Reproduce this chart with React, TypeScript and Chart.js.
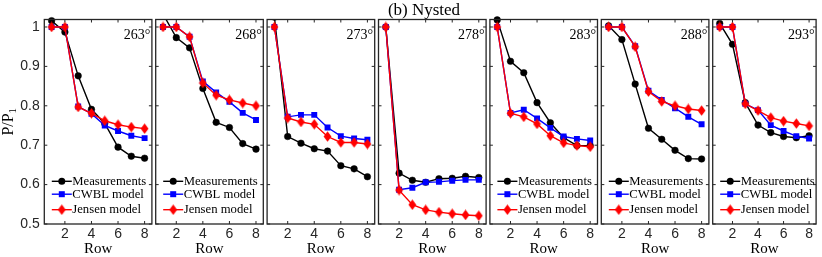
import React, { useEffect, useRef } from 'react';
import { Chart, registerables } from 'chart.js';

Chart.register(...registerables);

// ---------------- data ----------------
const rows = [1, 2, 3, 4, 5, 6, 7, 8];
const angleLabels = ['263°', '268°', '273°', '278°', '283°', '288°', '293°'];
const xTicks = [2, 4, 6, 8];
const xTickLabels = ['2', '4', '6', '8'];
const yTicks = [0.5, 0.6, 0.7, 0.8, 0.9, 1];
const yTickLabels = ['0.5', '0.6', '0.7', '0.8', '0.9', '1'];
const seriesNames = ['Measurements', 'CWBL model', 'Jensen model'];
const figureTitle = '(b) Nysted';
const xAxisTitle = 'Row';
const showLegend = [true, true, false, false, true, true, true];

const measurements = [
  [1.016, 0.987, 0.876, 0.791, 0.755, 0.695, 0.672, 0.667],
  [1.033, 0.973, 0.947, 0.844, 0.758, 0.745, 0.704, 0.69],
  [1.025, 0.722, 0.705, 0.691, 0.685, 0.648, 0.64, 0.62],
  [1.0, 0.629, 0.611, 0.606, 0.615, 0.616, 0.621, 0.618],
  [1.018, 0.913, 0.884, 0.808, 0.757, 0.719, 0.699, 0.699],
  [1.003, 0.968, 0.855, 0.743, 0.715, 0.687, 0.666, 0.665],
  [1.009, 0.956, 0.808, 0.751, 0.732, 0.722, 0.719, 0.724],
];
const cwblModel = [
  [1.0, 1.0, 0.798, 0.78, 0.75, 0.736, 0.724, 0.718],
  [1.0, 1.0, 0.975, 0.862, 0.834, 0.81, 0.782, 0.764],
  [1.0, 0.772, 0.777, 0.777, 0.745, 0.723, 0.717, 0.714],
  [1.0, 0.587, 0.592, 0.606, 0.607, 0.61, 0.612, 0.612],
  [1.0, 0.782, 0.79, 0.768, 0.744, 0.722, 0.716, 0.712],
  [1.0, 1.0, 0.951, 0.838, 0.815, 0.794, 0.772, 0.753],
  [1.0, 1.0, 0.805, 0.789, 0.751, 0.736, 0.723, 0.717],
];
const jensenModel = [
  [1.0, 1.0, 0.797, 0.781, 0.762, 0.752, 0.746, 0.742],
  [1.0, 1.0, 0.975, 0.858, 0.827, 0.815, 0.807, 0.8],
  [1.0, 0.769, 0.759, 0.753, 0.722, 0.707, 0.707, 0.703],
  [1.0, 0.586, 0.549, 0.536, 0.53, 0.526, 0.523, 0.521],
  [1.0, 0.781, 0.772, 0.754, 0.724, 0.706, 0.699, 0.696],
  [1.0, 1.0, 0.95, 0.836, 0.811, 0.8, 0.792, 0.788],
  [1.0, 1.0, 0.805, 0.788, 0.77, 0.761, 0.755, 0.749],
];

// ---------------- layout / style ----------------
const W = 822;
const H = 257;
const PANEL_LEFT0 = 44.3;
const PANEL_STEP = 111.4;
const PANEL_W = 107.6;
const PLOT_TOP = 19.5;
const X_AXIS_H = 33;
const X_MIN = 0.45;
const X_MAX = 8.55;
const Y_MIN = 0.5;
const Y_MAX = 1.019;
const AXIS_COLOR = '#262626';
const TICK_LEN = 3;
const BLACK = '#000000';
const BLUE = '#0000ff';
const RED = '#ff0000';
const LEGEND_Y = [181.3, 194.2, 209.7];
const SANS = '"Liberation Sans", Arial, sans-serif';
const SERIF = '"Liberation Serif", "Times New Roman", serif';

function makeDiamond(): HTMLCanvasElement {
  const c = document.createElement('canvas');
  c.width = 9;
  c.height = 11;
  const g = c.getContext('2d')!;
  g.fillStyle = RED;
  g.beginPath();
  g.moveTo(4.5, 0.3);
  g.lineTo(8.4, 5.5);
  g.lineTo(4.5, 10.7);
  g.lineTo(0.6, 5.5);
  g.closePath();
  g.fill();
  return c;
}

function drawMarker(ctx: CanvasRenderingContext2D, kind: number, x: number, y: number, diamond: HTMLCanvasElement) {
  if (kind === 0) {
    ctx.fillStyle = BLACK;
    ctx.beginPath();
    ctx.arc(x, y, 3.5, 0, Math.PI * 2);
    ctx.fill();
  } else if (kind === 1) {
    ctx.fillStyle = BLUE;
    ctx.fillRect(x - 3, y - 3, 6, 6);
  } else {
    ctx.drawImage(diamond, x - diamond.width / 2, y - diamond.height / 2);
  }
}

export default function App() {
  const refs = useRef<(HTMLCanvasElement | null)[]>([]);

  useEffect(() => {
    const diamond = makeDiamond();
    const charts: Chart[] = [];
    angleLabels.forEach((angle, i) => {
      const canvas = refs.current[i];
      if (!canvas) return;
      const left = PANEL_LEFT0 + PANEL_STEP * i;
      const right = left + PANEL_W;
      const pts = (arr: number[]) => rows.map((r, k) => ({ x: r, y: arr[k] }));
      const clipFor = (arr: number[]) =>
        Math.max(...arr) > Y_MAX ? { left: 5, right: 5, top: 0, bottom: 5 } : 6;

      const framePlugin = {
        id: 'frame' + i,
        afterDraw(chart: any) {
          const { ctx, chartArea: a, scales } = chart;
          const xs = scales.x;
          const ys = scales.y;
          ctx.save();
          // box
          ctx.strokeStyle = AXIS_COLOR;
          ctx.lineWidth = 1.3;
          ctx.strokeRect(a.left, a.top, a.right - a.left, a.bottom - a.top);
          // inward ticks on all sides
          ctx.lineWidth = 1;
          ctx.beginPath();
          xTicks.forEach((v) => {
            const px = xs.getPixelForValue(v);
            ctx.moveTo(px, a.bottom);
            ctx.lineTo(px, a.bottom - TICK_LEN);
            ctx.moveTo(px, a.top);
            ctx.lineTo(px, a.top + TICK_LEN);
          });
          yTicks.forEach((v) => {
            const py = ys.getPixelForValue(v);
            ctx.moveTo(a.left, py);
            ctx.lineTo(a.left + TICK_LEN, py);
            ctx.moveTo(a.right, py);
            ctx.lineTo(a.right - TICK_LEN, py);
          });
          ctx.stroke();

          // wind direction label
          ctx.fillStyle = BLACK;
          ctx.font = `14px ${SERIF}`;
          ctx.textAlign = 'right';
          ctx.textBaseline = 'alphabetic';
          ctx.fillText(angle, a.right - 1.5, 39.3);

          // legend
          if (showLegend[i]) {
            const lx0 = a.left + 7.5;
            const lx1 = a.left + 27.5;
            const colors = [BLACK, BLUE, RED];
            seriesNames.forEach((name, k) => {
              const ly = LEGEND_Y[k];
              ctx.strokeStyle = colors[k];
              ctx.lineWidth = 1.4;
              ctx.beginPath();
              ctx.moveTo(lx0, ly);
              ctx.lineTo(lx1, ly);
              ctx.stroke();
              drawMarker(ctx, k, (lx0 + lx1) / 2, ly, diamond);
              ctx.fillStyle = BLACK;
              ctx.font = `12.7px ${SERIF}`;
              ctx.textAlign = 'left';
              ctx.textBaseline = 'middle';
              ctx.fillText(name, lx1 + 0.5, ly);
            });
          }

          if (i === 0) {
            // y-axis title P/P1
            ctx.save();
            ctx.translate(12.5, (a.top + a.bottom) / 2);
            ctx.rotate(-Math.PI / 2);
            ctx.fillStyle = BLACK;
            ctx.font = `16px ${SERIF}`;
            const main = 'P/P';
            const wMain = ctx.measureText(main).width;
            ctx.font = `11px ${SERIF}`;
            const wSub = ctx.measureText('1').width;
            const total = wMain + wSub;
            ctx.textAlign = 'left';
            ctx.textBaseline = 'alphabetic';
            ctx.font = `16px ${SERIF}`;
            ctx.fillText(main, -total / 2, 0);
            ctx.font = `11px ${SERIF}`;
            ctx.fillText('1', -total / 2 + wMain, 3);
            ctx.restore();
          }
          if (i === 3) {
            ctx.fillStyle = BLACK;
            ctx.font = `17px ${SERIF}`;
            ctx.textAlign = 'center';
            ctx.textBaseline = 'alphabetic';
            ctx.fillText(figureTitle, 424, 14.5);
          }
          ctx.restore();
        },
      };

      const chart = new Chart(canvas, {
        type: 'line',
        data: {
          datasets: [
            {
              label: seriesNames[2],
              data: pts(jensenModel[i]),
              borderColor: RED,
              backgroundColor: RED,
              pointStyle: diamond as any,
              pointRadius: 4.5,
              borderWidth: 1.4,
              tension: 0,
              order: 0,
              clip: clipFor(jensenModel[i]) as any,
            },
            {
              label: seriesNames[1],
              data: pts(cwblModel[i]),
              borderColor: BLUE,
              backgroundColor: BLUE,
              pointStyle: 'rect',
              pointRadius: 4.2,
              pointBorderWidth: 0,
              borderWidth: 1.4,
              tension: 0,
              order: 1,
              clip: clipFor(cwblModel[i]) as any,
            },
            {
              label: seriesNames[0],
              data: pts(measurements[i]),
              borderColor: BLACK,
              backgroundColor: BLACK,
              pointStyle: 'circle',
              pointRadius: 3.3,
              pointBorderWidth: 0.5,
              borderWidth: 1.4,
              tension: 0,
              order: 2,
              clip: clipFor(measurements[i]) as any,
            },
          ],
        },
        options: {
          responsive: false,
          animation: false,
          devicePixelRatio: 1,
          events: [],
          layout: {
            padding: {
              left: i === 0 ? 0 : left,
              right: W - right,
              top: PLOT_TOP,
              bottom: 0,
            },
          },
          plugins: {
            legend: { display: false },
            tooltip: { enabled: false },
            title: { display: false },
          },
          scales: {
            x: {
              type: 'linear',
              min: X_MIN,
              max: X_MAX,
              grid: { display: false, drawTicks: false },
              border: { display: false },
              afterBuildTicks: (s: any) => {
                s.ticks = xTicks.map((v) => ({ value: v }));
              },
              afterFit: (s: any) => {
                s.height = X_AXIS_H;
              },
              ticks: {
                autoSkip: false,
                maxRotation: 0,
                padding: 1.5,
                color: AXIS_COLOR,
                font: { family: SANS, size: 14 },
                callback: (_v: any, idx: number) => xTickLabels[idx],
              },
              title: {
                display: true,
                text: xAxisTitle,
                color: BLACK,
                padding: { top: 0, bottom: 0 },
                font: { family: SERIF, size: 15, lineHeight: 1.0 },
              },
            },
            y: {
              type: 'linear',
              min: Y_MIN,
              max: Y_MAX,
              display: i === 0,
              grid: { display: false, drawTicks: false },
              border: { display: false },
              afterBuildTicks: (s: any) => {
                s.ticks = yTicks.map((v) => ({ value: v }));
              },
              afterFit: (s: any) => {
                if (i === 0) s.width = PANEL_LEFT0;
              },
              ticks: {
                padding: 4.5,
                color: AXIS_COLOR,
                font: { family: SANS, size: 14 },
                callback: (_v: any, idx: number) => yTickLabels[idx],
              },
              title: { display: false },
            },
          },
        } as any,
        plugins: [framePlugin],
      });
      charts.push(chart);
    });
    return () => {
      charts.forEach((c) => c.destroy());
    };
  }, []);

  return (
    <div
      style={{
        position: 'fixed',
        left: 0,
        top: 0,
        width: W,
        height: H,
        background: '#ffffff',
        overflow: 'hidden',
      }}
    >
      {angleLabels.map((a, i) => (
        <canvas
          key={a}
          ref={(el) => {
            refs.current[i] = el;
          }}
          width={W}
          height={H}
          style={{ position: 'absolute', left: 0, top: 0, width: W, height: H }}
        />
      ))}
    </div>
  );
}
